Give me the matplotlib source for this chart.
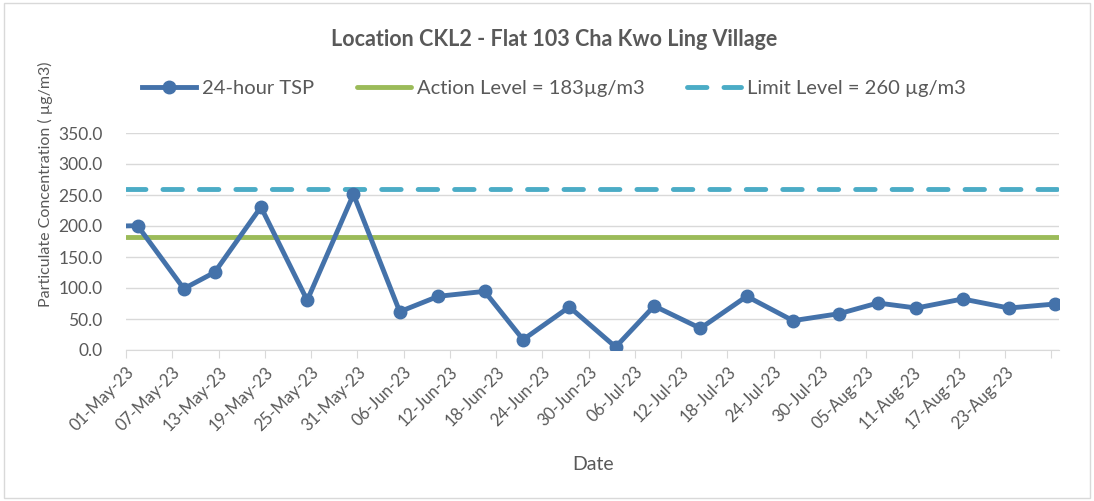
import matplotlib
matplotlib.use("Agg")
import matplotlib.pyplot as plt
from matplotlib.patches import Rectangle
import numpy as np
import datetime as dt

plt.rcParams['font.family'] = ['Lato', 'DejaVu Sans']

# sampling dates and 24-hour TSP results (ug/m3)
dates = ['2023-04-26', '2023-05-02', '2023-05-08', '2023-05-12', '2023-05-18', '2023-05-24',
         '2023-05-30', '2023-06-05', '2023-06-10', '2023-06-16', '2023-06-21',
         '2023-06-27', '2023-07-03', '2023-07-08', '2023-07-14', '2023-07-20',
         '2023-07-26', '2023-08-01', '2023-08-06', '2023-08-11', '2023-08-17',
         '2023-08-23', '2023-08-29']
tsp = [199.0, 200.5, 98.9, 125.3, 230.6, 80.1, 251.1, 61.8, 86.6, 94.6, 16.7,
       69.4, 4.8, 71.0, 35.0, 86.6, 47.3, 58.6, 75.8, 67.7, 82.3, 67.7, 74.2]
action_level = 183
limit_level = 260
axis_start = '2023-05-01'
axis_days = 121
tick_step = 6

grey = '#595959'
gridc = '#D9D9D9'

x = [dt.datetime.strptime(d, '%Y-%m-%d') + dt.timedelta(hours=12) for d in dates]
x0 = dt.datetime.strptime(axis_start, '%Y-%m-%d')
x1 = x0 + dt.timedelta(days=axis_days)

fig = plt.figure(figsize=(10.94, 5.01), dpi=100)
fig.patches.append(Rectangle((0.004, 0.006), 0.992, 0.988, transform=fig.transFigure,
                             fill=False, edgecolor=gridc, linewidth=1))
ax = fig.add_axes([126 / 1094, 1 - 350 / 501, (1059 - 126) / 1094, (350 - 133) / 501])

ax.plot(x, tsp, color='#4472AA', linewidth=3.5, marker='o', markersize=9,
        label='24-hour TSP', zorder=4)
ax.plot([x0, x1], [action_level, action_level], color='#9BBB59', linewidth=3.5,
        solid_capstyle='round', label='Action Level = 183µg/m3', zorder=3)
ax.plot([x0, x1], [limit_level, limit_level], color='#4BACC6', linewidth=3.5,
        dashes=(4, 3.5), dash_capstyle='round', label='Limit Level = 260 µg/m3', zorder=3)

ax.set_xlim(x0, x1)
ax.set_ylim(0, 350)
ax.set_yticks(np.arange(0, 351, 50))
ax.set_yticklabels(['%.1f' % v for v in np.arange(0, 351, 50)])
ticks = [x0 + dt.timedelta(days=int(k)) for k in range(0, axis_days, tick_step)]
ax.set_xticks(ticks)
labels = [t.strftime('%d-%b-%y') for t in ticks]
labels[-1] = ''
ax.set_xticklabels(labels, rotation=45, ha='right', rotation_mode='anchor')

ax.grid(axis='y', color=gridc, linewidth=1)
ax.set_axisbelow(True)
for s in ['top', 'right', 'left']:
    ax.spines[s].set_visible(False)
ax.spines['bottom'].set_color(gridc)
ax.tick_params(axis='y', length=0, labelsize=12.5, labelcolor=grey, pad=17)
ax.tick_params(axis='x', length=6, color=gridc, labelsize=12, labelcolor=grey, pad=4)

fig.text(45 / 1094, 1 - 184 / 501, 'Particulate Concentration ( µg/m3)', rotation=90,
         ha='center', va='center', fontsize=11.5, color=grey)
fig.text(593 / 1094, 1 - 465 / 501, 'Date', ha='center', va='center', fontsize=14, color=grey)
fig.text(554 / 1094, 1 - 40 / 501, 'Location CKL2 - Flat 103 Cha Kwo Ling Village', ha='center',
         va='center', fontsize=15.5, fontweight='bold', color=grey)

leg = ax.legend(loc='center', bbox_to_anchor=(554 / 1094, 1 - 88 / 501), bbox_transform=fig.transFigure,
                ncol=3, frameon=False, fontsize=14.5, handlelength=2.7, columnspacing=2.1,
                handletextpad=0.3)
for t in leg.get_texts():
    t.set_color(grey)

fig.savefig('out.png', dpi=100)
